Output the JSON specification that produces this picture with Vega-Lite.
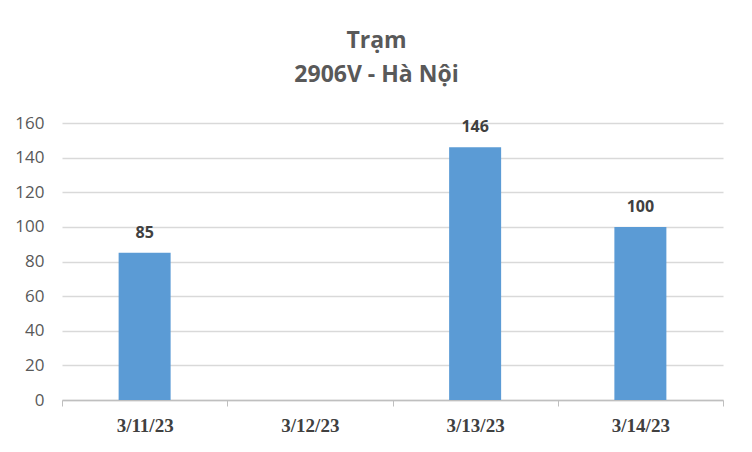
{
  "$schema": "https://vega.github.io/schema/vega-lite/v6.json",
  "autosize": {"type": "none"},
  "width": 661,
  "height": 277,
  "padding": {"left": 62, "top": 123, "right": 29, "bottom": 52},
  "background": "#ffffff",
  "data": {
    "values": [
      {"date": "3/11/23", "value": 85},
      {"date": "3/12/23", "value": null},
      {"date": "3/13/23", "value": 146},
      {"date": "3/14/23", "value": 100}
    ]
  },
  "title": {
    "text": ["Trạm", "2906V - Hà Nội"],
    "font": "Open Sans",
    "fontSize": 23,
    "fontWeight": "bold",
    "color": "#595959",
    "lineHeight": 34,
    "anchor": "middle",
    "dx": -16,
    "offset": 27
  },
  "encoding": {
    "x": {
      "field": "date",
      "type": "ordinal",
      "sort": null,
      "scale": {
        "domain": ["3/11/23", "3/12/23", "3/13/23", "3/14/23"],
        "paddingInner": 0,
        "paddingOuter": 0
      },
      "axis": {
        "title": null,
        "labelAngle": 0,
        "labelFont": "Liberation Serif",
        "labelFontSize": 19,
        "labelFontWeight": "bold",
        "labelColor": "#404040",
        "labelPadding": 10,
        "tickBand": "extent",
        "tickColor": "#bfbfbf",
        "tickSize": 6,
        "domainColor": "#bfbfbf",
        "domainWidth": 1.5,
        "grid": false
      }
    },
    "y": {
      "field": "value",
      "type": "quantitative",
      "scale": {"domain": [0, 160]},
      "axis": {
        "title": null,
        "values": [0, 20, 40, 60, 80, 100, 120, 140, 160],
        "labelFont": "Open Sans",
        "labelFontSize": 17,
        "labelColor": "#595959",
        "labelPadding": 18,
        "ticks": false,
        "domain": false,
        "gridColor": "#d9d9d9",
        "gridWidth": 1.5
      }
    }
  },
  "layer": [
    {
      "mark": {"type": "bar", "size": 52, "color": "#5b9bd5"}
    },
    {
      "mark": {
        "type": "text",
        "baseline": "bottom",
        "dy": -12,
        "font": "Open Sans",
        "fontSize": 16,
        "fontWeight": "bold",
        "color": "#404040"
      },
      "encoding": {"text": {"field": "value", "type": "quantitative"}}
    }
  ],
  "config": {
    "view": {"stroke": null}
  }
}
